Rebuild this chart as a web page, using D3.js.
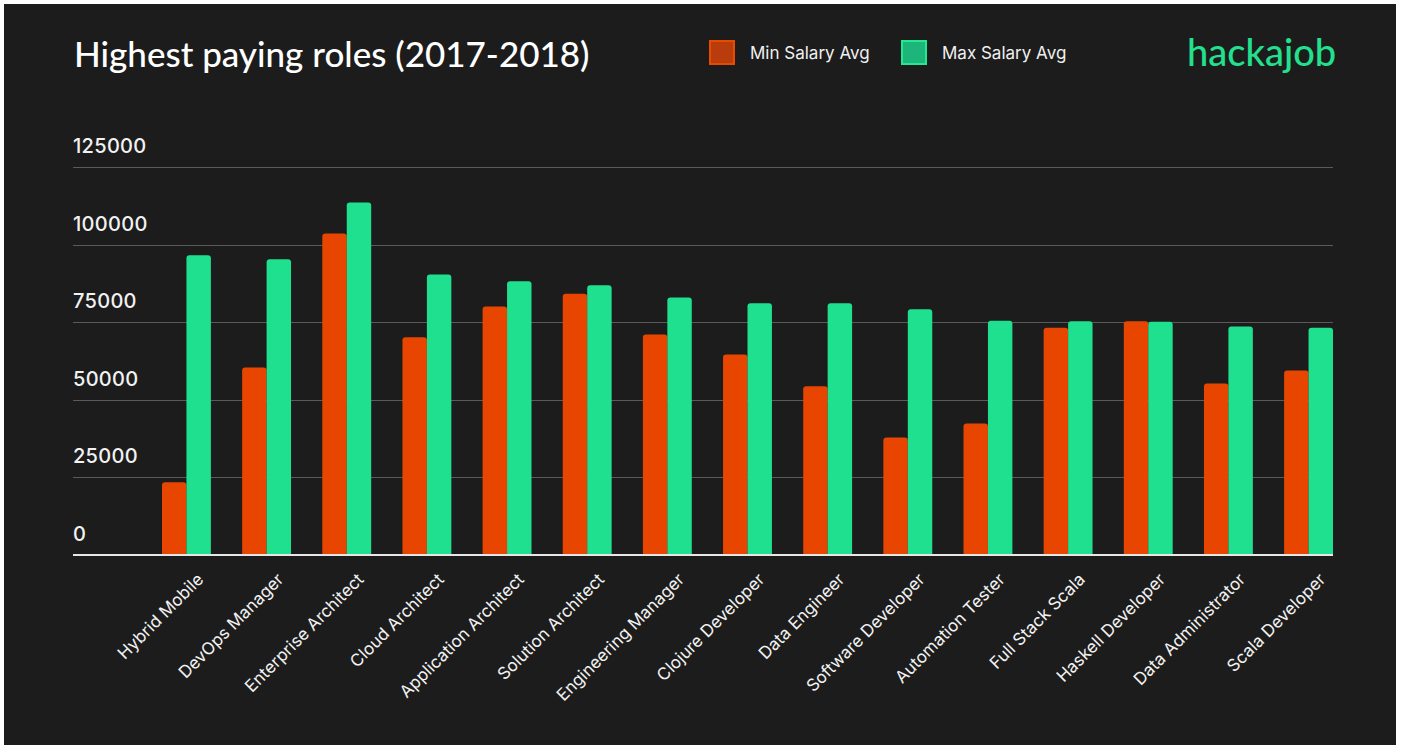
<!DOCTYPE html>
<html>
<head>
<meta charset="utf-8">
<script src="https://cdn.jsdelivr.net/npm/d3@7"></script>
<style>
  html, body { margin: 0; padding: 0; background: #ffffff; }
  svg { display: block; }
</style>
</head>
<body>
<svg id="chart" width="1402" height="749"></svg>
<script>
const categories = ["Hybrid Mobile", "DevOps Manager", "Enterprise Architect", "Cloud Architect",
  "Application Architect", "Solution Architect", "Engineering Manager", "Clojure Developer",
  "Data Engineer", "Software Developer", "Automation Tester", "Full Stack Scala",
  "Haskell Developer", "Data Administrator", "Scala Developer"];
const minSalary = [23300, 60400, 103600, 70100, 80100, 84200, 71000, 64600, 54300, 37800, 42300, 73200, 75300, 55200, 59400];
const maxSalary = [96600, 95300, 113600, 90400, 88200, 86900, 83000, 81100, 81100, 79200, 75500, 75300, 75100, 73600, 73200];
const seriesNames = ["Min Salary Avg", "Max Salary Avg"];
const yTicks = [0, 25000, 50000, 75000, 100000, 125000];
const titleText = "Highest paying roles (2017-2018)";
const brandText = "hackajob";

const svg = d3.select("#chart");
const colors = { min: "#E84600", max: "#1FE08E" };

// background panel
svg.append("rect").attr("x", 4).attr("y", 4).attr("width", 1392).attr("height", 741).attr("fill", "#1C1C1C");

const gridLeft = 73, plotRight = 1333;
const y = d3.scaleLinear().domain([0, 125000]).range([554.5, 167.3]);
const x = d3.scaleBand().domain(categories).range([162, 1333]).paddingInner(0.39).paddingOuter(0);
const xs = d3.scaleBand().domain(["min", "max"]).range([0, x.bandwidth()]).padding(0);

// gridlines
svg.append("g").selectAll("line").data(yTicks.filter(t => t > 0)).join("line")
  .attr("x1", gridLeft).attr("x2", plotRight)
  .attr("y1", d => Math.round(y(d)) + 0.5).attr("y2", d => Math.round(y(d)) + 0.5)
  .attr("stroke", "#5a5a5a").attr("stroke-width", 1);

// y tick labels
svg.append("g").selectAll("text").data(yTicks).join("text")
  .attr("x", 73).attr("y", d => y(d) - 14)
  .attr("fill", "#f2f2f2").attr("font-family", "Inter, 'Noto Sans', sans-serif")
  .attr("font-size", 20).attr("font-weight", 500).attr("letter-spacing", 0.3)
  .text(d => d3.format("d")(d));

// bars
const data = categories.map((c, i) => ({ cat: c, min: minSalary[i], max: maxSalary[i] }));
const r = 3;
function topRounded(x0, y0, w, h) {
  return `M${x0},${y0 + h}V${y0 + r}Q${x0},${y0} ${x0 + r},${y0}H${x0 + w - r}Q${x0 + w},${y0} ${x0 + w},${y0 + r}V${y0 + h}Z`;
}
const groups = svg.append("g").selectAll("g").data(data).join("g")
  .attr("transform", d => `translate(${x(d.cat)},0)`);
["min", "max"].forEach(k => {
  groups.append("path")
    .attr("d", d => topRounded(xs(k), y(d[k]), xs.bandwidth(), y(0) - y(d[k])))
    .attr("fill", colors[k]);
});

// baseline
svg.append("line").attr("x1", gridLeft).attr("x2", plotRight)
  .attr("y1", y(0) + 0.5).attr("y2", y(0) + 0.5)
  .attr("stroke", "#e6e6e6").attr("stroke-width", 2);

// x labels
const xAxis = d3.axisBottom(x).tickSize(0).tickPadding(0);
const gx = svg.append("g").attr("transform", `translate(0,${y(0)})`).call(xAxis);
gx.select(".domain").remove();
gx.selectAll("text")
  .attr("fill", "#f2f2f2").attr("font-family", "Inter, 'Noto Sans', sans-serif")
  .attr("font-size", 17).attr("font-weight", 400)
  .attr("text-anchor", "end")
  .attr("dy", null).attr("y", 0)
  .attr("transform", "translate(18,26) rotate(-45)");

// title
svg.append("text").attr("x", 74).attr("y", 67)
  .attr("fill", "#ffffff").attr("font-family", "Lato, 'Open Sans', sans-serif")
  .attr("font-size", 35).attr("font-weight", 500).text(titleText);

// legend
const legend = svg.append("g");
const legItems = [
  { name: seriesNames[0], x: 709, fill: "#B93D0C", stroke: "#E84A00" },
  { name: seriesNames[1], x: 901, fill: "#1DB57A", stroke: "#22E891" }
];
legItems.forEach(it => {
  legend.append("rect").attr("x", it.x + 1).attr("y", 41).attr("width", 24).attr("height", 23)
    .attr("fill", it.fill).attr("stroke", it.stroke).attr("stroke-width", 2);
  legend.append("text").attr("x", it.x + 41).attr("y", 59)
    .attr("fill", "#f0f0f0").attr("font-family", "Inter, 'Noto Sans', sans-serif")
    .attr("font-size", 17).attr("font-weight", 400).text(it.name);
});

// brand
svg.append("text").attr("x", 1187).attr("y", 66)
  .attr("fill", "#22E08E").attr("font-family", "Lato, 'Open Sans', sans-serif")
  .attr("font-size", 38).attr("font-weight", 500).text(brandText);
</script>
</body>
</html>
